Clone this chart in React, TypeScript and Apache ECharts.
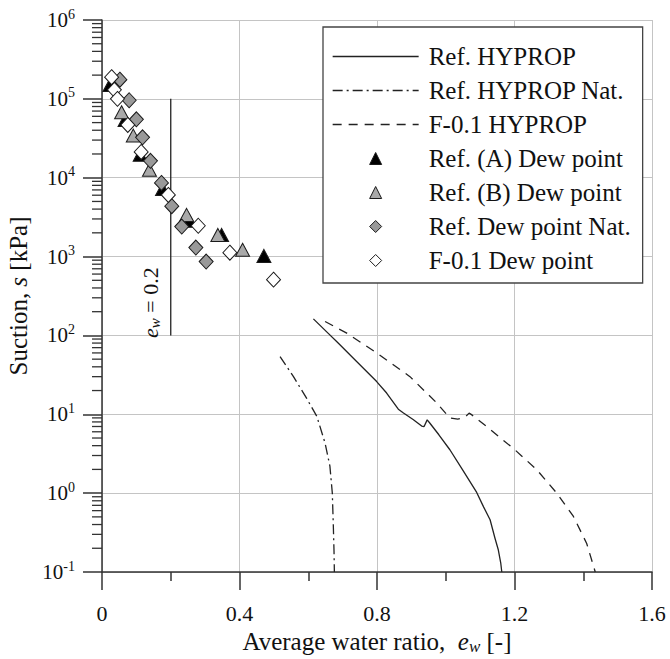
import React, { useEffect, useRef } from "react";
import * as echarts from "echarts";

const FONT = "Liberation Serif";

// x axis
const xMin = 0;
const xMax = 1.6;
const xInterval = 0.4;
// y axis (log)
const yMin = 0.1;
const yMax = 1e6;
const minorMultipliers = [2, 3, 4, 5, 6, 7, 8, 9];
const minorDecades = [0.1, 1, 10, 100, 1000, 10000, 100000];

// HYPROP curves [e_w, suction kPa]
const refHyprop = [
  [0.615, 162], [0.65, 115], [0.687, 80], [0.74, 47], [0.799, 26], [0.828, 18.6],
  [0.862, 11.6], [0.877, 10.4], [0.905, 8.6], [0.93, 7.1], [0.937, 7.0], [0.946, 8.5],
  [0.954, 7.7], [0.98, 5.5], [1.012, 3.55], [1.05, 1.94], [1.09, 1.02], [1.11, 0.67],
  [1.129, 0.46], [1.143, 0.27], [1.153, 0.19], [1.16, 0.13], [1.163, 0.1],
];
const refHypropNat = [
  [0.518, 54], [0.557, 30], [0.595, 16], [0.625, 9.4], [0.649, 4.3], [0.663, 2.2],
  [0.67, 1.0], [0.673, 0.38], [0.675, 0.18], [0.676, 0.1],
];
const f01Hyprop = [
  [0.649, 150], [0.712, 107], [0.799, 60], [0.896, 30], [0.974, 13.9], [1.012, 8.95],
  [1.035, 8.7], [1.056, 9.2], [1.068, 10.35], [1.075, 9.9], [1.119, 7.0], [1.201, 3.55],
  [1.265, 1.98], [1.323, 1.0], [1.371, 0.51], [1.41, 0.23], [1.435, 0.1],
];

// Dew point data
const refADew = [
  [0.023, 150000], [0.067, 54000], [0.111, 19500], [0.176, 7200], [0.254, 2850],
  [0.348, 1880], [0.471, 1020],
];
const refBDew = [
  [0.057, 67600], [0.091, 34200], [0.138, 12600], [0.246, 3380], [0.337, 1880], [0.409, 1220],
];
const refDewNat = [
  [0.052, 175000], [0.079, 96000], [0.1, 55000], [0.118, 32500], [0.141, 16400],
  [0.173, 8600], [0.203, 4350], [0.232, 2400], [0.273, 1300], [0.303, 865],
];
const f01Dew = [
  [0.028, 188000], [0.036, 130000], [0.045, 100000], [0.075, 46700], [0.114, 21200],
  [0.193, 6050], [0.28, 2460], [0.372, 1120], [0.499, 510],
];

// reference line e_w = 0.2
const ewLine = [[0.2, 100], [0.2, 100000]];
const ewLabelAt = [0.2, 260];

const legendNames = [
  "Ref. HYPROP",
  "Ref. HYPROP Nat.",
  "F-0.1 HYPROP",
  "Ref. (A) Dew point",
  "Ref. (B) Dew point",
  "Ref. Dew point Nat.",
  "F-0.1 Dew point",
];

const TRIANGLE = "path://M0,-1L1,1L-1,1Z";
const DIAMOND = "path://M0,-1L1,0L0,1L-1,0Z";

export default function App() {
  const ref = useRef<HTMLDivElement>(null);

  useEffect(() => {
    if (!ref.current) return;
    const chart = echarts.init(ref.current, null, { renderer: "svg" });
    const axisColor = "#333";
    const gridColor = "#c4c4c4";
    const textColor = "#111";

    const yMinorTicks: number[][] = [];
    minorDecades.forEach((d) => minorMultipliers.forEach((m) => yMinorTicks.push([0, m * d])));

    const lineSeries = (name: string, data: number[][], type: any) => ({
      name,
      type: "line",
      data,
      symbol: "none",
      showSymbol: false,
      silent: true,
      itemStyle: { color: "#222" },
      lineStyle: { color: "#222", width: 1.3, type },
      z: 3,
    });

    const scatterSeries = (name: string, data: number[][], symbol: string, size: any, fill: string) => ({
      name,
      type: "scatter",
      data,
      symbol,
      symbolSize: size,
      silent: true,
      itemStyle: { color: fill, borderColor: "#1a1a1a", borderWidth: 1, opacity: 1 },
      z: 4,
    });

    chart.setOption({
      animation: false,
      backgroundColor: "#fff",
      textStyle: { fontFamily: FONT },
      grid: { left: 102, right: 18, top: 20, bottom: 87, containLabel: false, outerBoundsMode: "none" },
      legend: {
        orient: "vertical",
        left: 323,
        top: 27,
        padding: [17, 9, 10, 9],
        itemWidth: 86,
        itemHeight: 12,
        itemGap: 9,
        symbolKeepAspect: true,
        selectedMode: false,
        backgroundColor: "#fff",
        borderColor: "#444",
        borderWidth: 1.3,
        borderRadius: 0,
        itemStyle: { borderWidth: 1 },
        lineStyle: { width: 1.3 },
        textStyle: {
          fontFamily: FONT,
          fontSize: 25,
          lineHeight: 24,
          color: textColor,
          padding: [0, 0, 0, 5],
          width: 205,
        },
        data: legendNames.map((n, i) => (i < 3 ? { name: n, itemStyle: { opacity: 0 } } : { name: n })),
      },
      xAxis: {
        type: "value",
        min: xMin,
        max: xMax,
        interval: xInterval,
        axisLine: { show: true, onZero: false, lineStyle: { color: axisColor, width: 1.5 } },
        axisTick: { show: true, length: 18, lineStyle: { color: axisColor, width: 1.5 } },
        minorTick: { show: true, splitNumber: 2, length: 9, lineStyle: { color: axisColor, width: 1.5 } },
        splitLine: { show: true, lineStyle: { color: gridColor, width: 1 } },
        axisLabel: {
          margin: 30,
          fontSize: 22,
          fontFamily: FONT,
          color: textColor,
          formatter: (v: number) => String(Math.round(v * 10) / 10),
        },
        name: "{n|Average water ratio,  }{i|e}{s|w}{n| [-]}",
        nameLocation: "middle",
        nameGap: 55,
        nameTextStyle: {
          color: textColor,
          fontFamily: FONT,
          fontSize: 25,
          rich: {
            n: { fontFamily: FONT, fontSize: 25, lineHeight: 27, color: textColor },
            i: { fontFamily: FONT, fontSize: 25, lineHeight: 27, fontStyle: "italic", color: textColor },
            s: { fontFamily: FONT, fontSize: 17, lineHeight: 18, fontStyle: "italic", verticalAlign: "bottom", color: textColor },
          },
        },
      },
      yAxis: {
        type: "log",
        logBase: 10,
        min: yMin,
        max: yMax,
        axisLine: { show: true, onZero: false, lineStyle: { color: axisColor, width: 1.5 } },
        axisTick: { show: true, length: 19, lineStyle: { color: axisColor, width: 1.5 } },
        minorTick: { show: false },
        splitLine: { show: true, lineStyle: { color: gridColor, width: 1 } },
        axisLabel: {
          margin: 27,
          fontFamily: FONT,
          fontSize: 21,
          formatter: (v: number) => `{a|10}{b|${Math.round(Math.log10(v))}}`,
          rich: {
            a: { fontFamily: FONT, fontSize: 21, lineHeight: 26, color: textColor },
            b: { fontFamily: FONT, fontSize: 14, lineHeight: 12, verticalAlign: "top", color: textColor },
          },
        },
        name: "{n|Suction, }{i|s}{n| [kPa]}",
        nameLocation: "middle",
        nameGap: 64,
        nameTextStyle: {
          color: textColor,
          fontFamily: FONT,
          fontSize: 25,
          rich: {
            n: { fontFamily: FONT, fontSize: 25, lineHeight: 27, color: textColor },
            i: { fontFamily: FONT, fontSize: 25, lineHeight: 27, fontStyle: "italic", color: textColor },
          },
        },
      },
      series: [
        lineSeries("Ref. HYPROP", refHyprop, "solid"),
        lineSeries("Ref. HYPROP Nat.", refHypropNat, [10, 4, 2, 4]),
        lineSeries("F-0.1 HYPROP", f01Hyprop, [9, 7]),
        scatterSeries("Ref. (A) Dew point", refADew, TRIANGLE, [14, 13], "#000"),
        scatterSeries("Ref. (B) Dew point", refBDew, TRIANGLE, [14, 13], "#a9a9a9"),
        scatterSeries("Ref. Dew point Nat.", refDewNat, DIAMOND, [14, 15], "#999"),
        scatterSeries("F-0.1 Dew point", f01Dew, DIAMOND, [14, 15], "#fff"),
        {
          name: "ew02",
          type: "line",
          data: ewLine,
          symbol: "none",
          silent: true,
          lineStyle: { color: "#222", width: 1.3 },
          itemStyle: { color: "#222" },
          z: 2,
        },
        {
          name: "yMinor",
          type: "custom",
          silent: true,
          clip: false,
          z: 6,
          data: yMinorTicks,
          renderItem: (params: any, api: any) => {
            const p = api.coord([api.value(0), api.value(1)]);
            return {
              type: "line",
              shape: { x1: p[0] - 10, y1: p[1], x2: p[0], y2: p[1] },
              style: { stroke: axisColor, lineWidth: 1.3 },
            };
          },
        },
      ],
    });

    const lp = chart.convertToPixel({ xAxisIndex: 0, yAxisIndex: 0 }, ewLabelAt) as number[];
    chart.setOption({
      graphic: [
        {
          type: "text",
          x: lp[0] - 20,
          y: lp[1],
          rotation: Math.PI / 2,
          silent: true,
          z: 10,
          style: {
            text: "{i|e}{s|w}{n| = 0.2}",
            align: "center",
            verticalAlign: "middle",
            fontFamily: FONT,
            fontSize: 22,
            fill: textColor,
            rich: {
              i: { fontFamily: FONT, fontSize: 22, lineHeight: 24, fontStyle: "italic", fill: textColor },
              s: { fontFamily: FONT, fontSize: 15, lineHeight: 15, fontStyle: "italic", verticalAlign: "bottom", fill: textColor },
              n: { fontFamily: FONT, fontSize: 22, lineHeight: 24, fill: textColor },
            },
          },
        },
      ],
    });

    return () => chart.dispose();
  }, []);

  return (
    <div
      ref={ref}
      style={{ position: "absolute", left: 0, top: 0, width: 670, height: 659 }}
    />
  );
}
